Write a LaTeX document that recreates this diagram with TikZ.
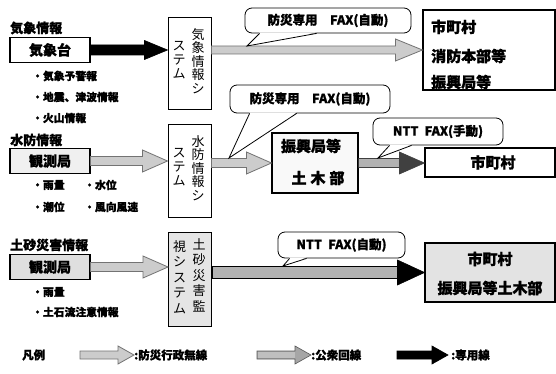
\documentclass[tikz,border=0pt]{standalone}
\usepackage{fontspec}
\setmainfont{Noto Sans CJK JP}[BoldFeatures={FakeBold=1.2}]
\usetikzlibrary{calc}
% #1 outline+head style, #2 shaft fill, #3 from, #4 to, #5 shaft half, #6 head half, #7 head length
\newcommand\harrow[7]{%
  \path[#1] let \p1=(#3), \p2=(#4) in
    (\x1,{\y1+#5}) -- ({\x2-#7},{\y1+#5}) -- ({\x2-#7},{\y1+#6}) -- (\x2,\y1)
    -- ({\x2-#7},{\y1-#6}) -- ({\x2-#7},{\y1-#5}) -- (\x1,{\y1-#5}) -- cycle;
  \fill[#2] let \p1=(#3), \p2=(#4) in
    ({\x1+0.6pt},{\y1+#5-0.6pt}) rectangle ({\x2-#7},{\y1-#5+0.6pt});}
\begin{document}
\begin{tikzpicture}[x=1pt,y=-1pt,
  ttl/.style={anchor=west, inner sep=0pt, font=\bfseries\fontsize{13}{13}\selectfont},
  bul/.style={anchor=west, inner sep=0pt, font=\bfseries\fontsize{10.8}{11}\selectfont},
  srcbox/.style={draw, line width=1.1pt, minimum width=80pt, minimum height=25pt, inner sep=0pt, font=\bfseries\fontsize{14}{14}\selectfont},
  sysbox/.style={draw, line width=1pt, minimum width=43pt, minimum height=92pt, inner sep=0pt},
  vcol/.style={anchor=north, inner sep=0pt, align=center, font=\fontsize{13}{13.6}\selectfont},
  dbox/.style={draw, line width=1.1pt, inner sep=0pt},
  dtxt/.style={inner sep=0pt, font=\bfseries\fontsize{15}{16}\selectfont},
  callout/.style={draw, line width=0.8pt, rounded corners=7pt, fill=white, inner sep=0pt, font=\bfseries\fontsize{12.5}{13}\selectfont},
  tail/.style={draw, line width=0.8pt},
  radio/.style={draw=black!55, fill=gray!40, line width=0.8pt},
  pubhead/.style={draw=black!75, fill=black!75, line width=0.6pt},
  blk/.style={draw=black, fill=black, line width=0.6pt},
  lgd/.style={anchor=west, inner sep=0pt, font=\bfseries\fontsize{11.5}{12}\selectfont}
]
\useasboundingbox (0,0) rectangle (556,374);
\fill[white] (0,0) rectangle (556,374);

% ---------- Row 1 ----------
\node[ttl] (t1) at (10,28) {気象情報};
\node[srcbox] (src1) at (50,50) {気象台};
\node[bul] (b11) at (32,76) {・気象予警報};
\node[bul] (b12) at (32,97) {・地震、津波情報};
\node[bul] (b13) at (32,118) {・火山情報};

\node[sysbox] (s1) at (189.5,64) {};
\node[vcol] (s1r) at (198,28) {気\\象\\情\\報\\シ};
\node[vcol] (s1l) at (179,41.5) {ス\\テ\\ム};

\node[dbox, minimum width=132pt, minimum height=80pt] (d1) at (489,50) {};
\node[dtxt, anchor=west] (d1a) at (431,27) {市町村};
\node[dtxt, anchor=west] (d1b) at (431,56) {消防本部等};
\node[dtxt, anchor=west] (d1c) at (431,82) {振興局等};

\harrow{blk}{black}{src1.east}{s1.west |- src1.east}{5pt}{9.5pt}{23pt}
\harrow{radio}{gray!40}{s1.east |- d1.west}{d1.west}{4pt}{11pt}{27pt}

\node[callout, minimum width=166pt, minimum height=25pt] (c1) at (328,20.5) {防災専用\hspace{1em}FAX(自動)};
\coordinate (tip1) at (247,46);
\fill[white] ([xshift=15pt,yshift=1pt]c1.south west) -- (tip1) -- ([xshift=72pt,yshift=1pt]c1.south west) -- cycle;
\draw[tail] ([xshift=15pt]c1.south west) -- (tip1) -- ([xshift=72pt]c1.south west);

% ---------- Row 2 ----------
\node[ttl] (t2) at (10,140) {水防情報};
\node[srcbox, fill=gray!12] (src2) at (50,161) {観測局};
\node[bul] (b21) at (32,185) {・雨量};
\node[bul] (b22) at (84,185) {・水位};
\node[bul] (b23) at (32,207) {・潮位};
\node[bul] (b24) at (84,207) {・風向風速};

\node[sysbox] (s2) at (189.5,171) {};
\node[vcol] (s2r) at (198,135) {水\\防\\情\\報\\シ};
\node[vcol] (s2l) at (179,148.5) {ス\\テ\\ム};

\node[dbox, fill=gray!5, minimum width=86pt, minimum height=60pt] (j2) at (315,163) {};
\node[dtxt] (j2a) at (311,146) {振興局等};
\node[dtxt] (j2b) at (318,178) {土\hspace{4pt}木\hspace{4pt}部};

\node[dbox, minimum width=130pt, minimum height=29pt] (d2) at (490,162.5) {};
\node[dtxt] (d2a) at (493,162.5) {市町村};

\harrow{radio}{gray!40}{src2.east}{s2.west |- src2.east}{4.5pt}{11pt}{25pt}
\harrow{radio}{gray!40}{s2.east |- j2.west}{j2.west}{4.5pt}{11pt}{25pt}
\harrow{pubhead}{gray!60}{j2.east}{d2.west |- j2.east}{4.5pt}{11pt}{25pt}

\node[callout, minimum width=160pt, minimum height=28pt] (c2) at (310,99) {防災専用\hspace{1em}FAX(自動)};
\coordinate (tip2) at (229,158);
\fill[white] ([xshift=20pt,yshift=1pt]c2.south west) -- (tip2) -- ([xshift=67pt,yshift=1pt]c2.south west) -- cycle;
\draw[tail] ([xshift=20pt]c2.south west) -- (tip2) -- ([xshift=67pt]c2.south west);

\node[callout, minimum width=130pt, minimum height=27pt] (c3) at (438,131.5) {NTT\hspace{0.5em}FAX(手動)};
\coordinate (tip3) at (378,158);
\fill[white] ([xshift=17pt,yshift=1pt]c3.south west) -- (tip3) -- ([xshift=39pt,yshift=1pt]c3.south west) -- cycle;
\draw[tail] ([xshift=17pt]c3.south west) -- (tip3) -- ([xshift=39pt]c3.south west);

% ---------- Row 3 ----------
\node[ttl] (t3) at (10,245) {土砂災害情報};
\node[srcbox, fill=gray!25] (src3) at (50,267) {観測局};
\node[bul] (b31) at (32,292) {・雨量};
\node[bul] (b32) at (32,312) {・土石流注意情報};

\node[sysbox, fill=gray!20, minimum height=94pt] (s3) at (190,279) {};
\node[vcol, font=\fontsize{13}{15.5}\selectfont] (s3r) at (199,238) {土\\砂\\災\\害\\監};
\node[vcol, font=\fontsize{13}{15.5}\selectfont] (s3l) at (179.5,240) {視\\シ\\ス\\テ\\ム};

\node[dbox, fill=gray!22, minimum width=130pt, minimum height=59pt] (d3) at (490,272.5) {};
\node[dtxt] (d3a) at (490,259) {市町村};
\node[dtxt] (d3b) at (490,288) {振興局等土木部};

\harrow{radio}{gray!40}{src3.east}{s3.west |- src3.east}{4.5pt}{11pt}{25pt}
\harrow{blk}{gray!60}{s3.east |- d3.west}{d3.west}{6pt}{12.5pt}{27pt}

\node[callout, minimum width=127pt, minimum height=26pt] (c4) at (341.5,245) {NTT\hspace{0.5em}FAX(自動)};
\coordinate (tip4) at (283,266);
\fill[white] ([xshift=12pt,yshift=1pt]c4.south west) -- (tip4) -- ([xshift=29pt,yshift=1pt]c4.south west) -- cycle;
\draw[tail] ([xshift=12pt]c4.south west) -- (tip4) -- ([xshift=29pt]c4.south west);

% ---------- Legend ----------
\node[lgd] (lg) at (22,355) {凡例};
\node[lgd] (lt1) at (134,355) {:防災行政無線};
\node[lgd] (lt2) at (311,355) {:公衆回線};
\node[lgd] (lt3) at (451,355) {:専用線};
\coordinate (la1) at (80,355);
\coordinate (la2) at (257,355);
\coordinate (la3) at (397,355);
\harrow{radio}{gray!40}{la1}{lt1.west}{4pt}{9pt}{16pt}
\harrow{draw=black!65, fill=gray!70, line width=0.6pt}{gray!50}{la2}{lt2.west}{4pt}{9pt}{16pt}
\harrow{blk}{black}{la3}{[xshift=-3pt]lt3.west}{4pt}{9pt}{16pt}
\end{tikzpicture}
\end{document}
